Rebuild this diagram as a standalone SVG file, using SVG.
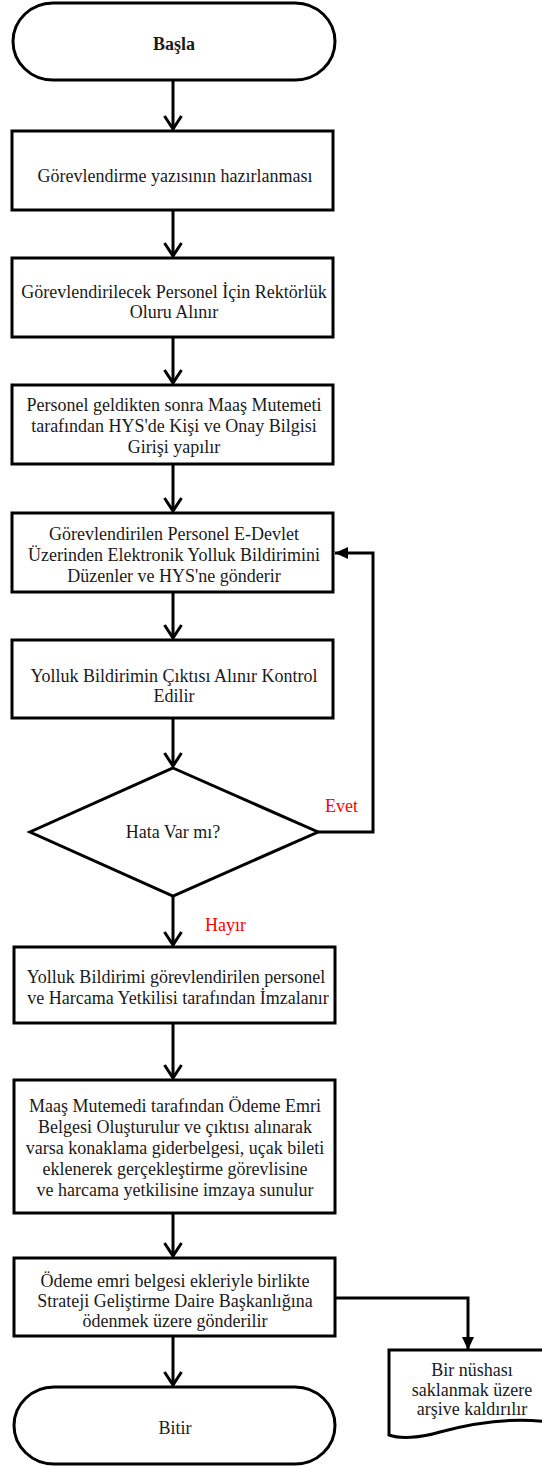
<svg xmlns="http://www.w3.org/2000/svg" width="542" height="1466" viewBox="0 0 542 1466">
<style>
.shape{fill:#fff;stroke:#000;stroke-width:3}
.t{font-family:'Liberation Serif','DejaVu Serif',serif;font-size:18px;fill:#1a1a1a;text-anchor:middle}
.b{font-weight:bold}
.red{font-family:'Liberation Serif','DejaVu Serif',serif;font-size:18px;fill:#ff0000}
.c{fill:none;stroke:#000;stroke-width:3}
</style>
<defs>
<marker id="open" viewBox="-16 -12 20 24" refX="0" refY="0" markerWidth="20" markerHeight="24" orient="auto" markerUnits="userSpaceOnUse">
<path d="M-13,-8.5 L0,0 L-13,8.5" fill="none" stroke="#000" stroke-width="3"/>
</marker>
<marker id="fill" viewBox="-14 -8 16 16" refX="0" refY="0" markerWidth="16" markerHeight="16" orient="auto" markerUnits="userSpaceOnUse">
<path d="M-13,-6 L0,0 L-13,6 Z" fill="#000"/>
</marker>
</defs>
<g id="connectors">
<path class="c" d="M173,80 V129" marker-end="url(#open)"/>
<path class="c" d="M173,210 V256" marker-end="url(#open)"/>
<path class="c" d="M173,337 V383" marker-end="url(#open)"/>
<path class="c" d="M173,464 V511" marker-end="url(#open)"/>
<path class="c" d="M173,592 V638" marker-end="url(#open)"/>
<path class="c" d="M173,718 V766" marker-end="url(#open)"/>
<path class="c" d="M318,832 H373 V553 H335" marker-end="url(#fill)"/>
<path class="c" d="M173,896 V945" marker-end="url(#open)"/>
<path class="c" d="M173,1023 V1078" marker-end="url(#open)"/>
<path class="c" d="M173,1213 V1256" marker-end="url(#open)"/>
<path class="c" d="M173,1336 V1385" marker-end="url(#open)"/>
<path class="c" d="M335,1298 H468 V1350" marker-end="url(#fill)"/>
<text class="red" x="325" y="812">Evet</text>
<text class="red" x="205" y="931">Hayır</text>
</g>
<g id="start">
<rect class="shape" x="13" y="3" width="322" height="77" rx="40" ry="38.5"/>
<text class="t b" x="174" y="50">Başla</text>
</g>
<g id="box1">
<rect class="shape" x="12" y="131" width="321" height="79"/>
<text class="t" x="175" y="182">Görevlendirme yazısının hazırlanması</text>
</g>
<g id="box2">
<rect class="shape" x="12" y="258" width="321" height="79"/>
<text class="t" x="174" y="298">Görevlendirilecek Personel İçin Rektörlük</text>
<text class="t" x="174" y="318">Oluru Alınır</text>
</g>
<g id="box3">
<rect class="shape" x="12" y="385" width="321" height="79"/>
<text class="t" x="174" y="411">Personel geldikten sonra Maaş Mutemeti</text>
<text class="t" x="174" y="432">tarafından HYS'de Kişi ve Onay Bilgisi</text>
<text class="t" x="174" y="453">Girişi yapılır</text>
</g>
<g id="box4">
<rect class="shape" x="12" y="513" width="321" height="79"/>
<text class="t" x="174" y="540">Görevlendirilen Personel E-Devlet</text>
<text class="t" x="174" y="561">Üzerinden Elektronik Yolluk Bildirimini</text>
<text class="t" x="174" y="582">Düzenler ve HYS'ne gönderir</text>
</g>
<g id="box5">
<rect class="shape" x="12" y="640" width="321" height="78"/>
<text class="t" x="174" y="682">Yolluk Bildirimin Çıktısı Alınır Kontrol</text>
<text class="t" x="174" y="702">Edilir</text>
</g>
<g id="decision">
<polygon class="shape" points="173,768 318,832 173,896 30,832"/>
<text class="t" x="173" y="838">Hata Var mı?</text>
</g>
<g id="box6">
<rect class="shape" x="14" y="947" width="321" height="76"/>
<text class="t" x="176" y="983">Yolluk Bildirimi görevlendirilen personel</text>
<text class="t" x="178" y="1004">ve Harcama Yetkilisi tarafından İmzalanır</text>
</g>
<g id="box7">
<rect class="shape" x="14" y="1080" width="321" height="133"/>
<text class="t" x="175" y="1112">Maaş Mutemedi tarafından Ödeme Emri</text>
<text class="t" x="175" y="1133">Belgesi Oluşturulur ve çıktısı alınarak</text>
<text class="t" x="175" y="1154">varsa konaklama giderbelgesi, uçak bileti</text>
<text class="t" x="175" y="1175">eklenerek gerçekleştirme görevlisine</text>
<text class="t" x="175" y="1196">ve harcama yetkilisine imzaya sunulur</text>
</g>
<g id="box8">
<rect class="shape" x="14" y="1258" width="321" height="78"/>
<text class="t" x="175" y="1287">Ödeme emri belgesi ekleriyle birlikte</text>
<text class="t" x="175" y="1307">Strateji Geliştirme Daire Başkanlığına</text>
<text class="t" x="175" y="1327">ödenmek üzere gönderilir</text>
</g>
<g id="end">
<rect class="shape" x="14" y="1387" width="321" height="77" rx="40" ry="38.5"/>
<text class="t" x="175" y="1434">Bitir</text>
</g>
<g id="archive">
<path class="shape" d="M389,1350 H548 V1422 C510,1417 470,1424 440,1432 C420,1438 400,1439 389,1435 Z"/>
<text class="t" x="472" y="1376">Bir nüshası</text>
<text class="t" x="472" y="1396">saklanmak üzere</text>
<text class="t" x="472" y="1415">arşive kaldırılır</text>
</g>
</svg>
